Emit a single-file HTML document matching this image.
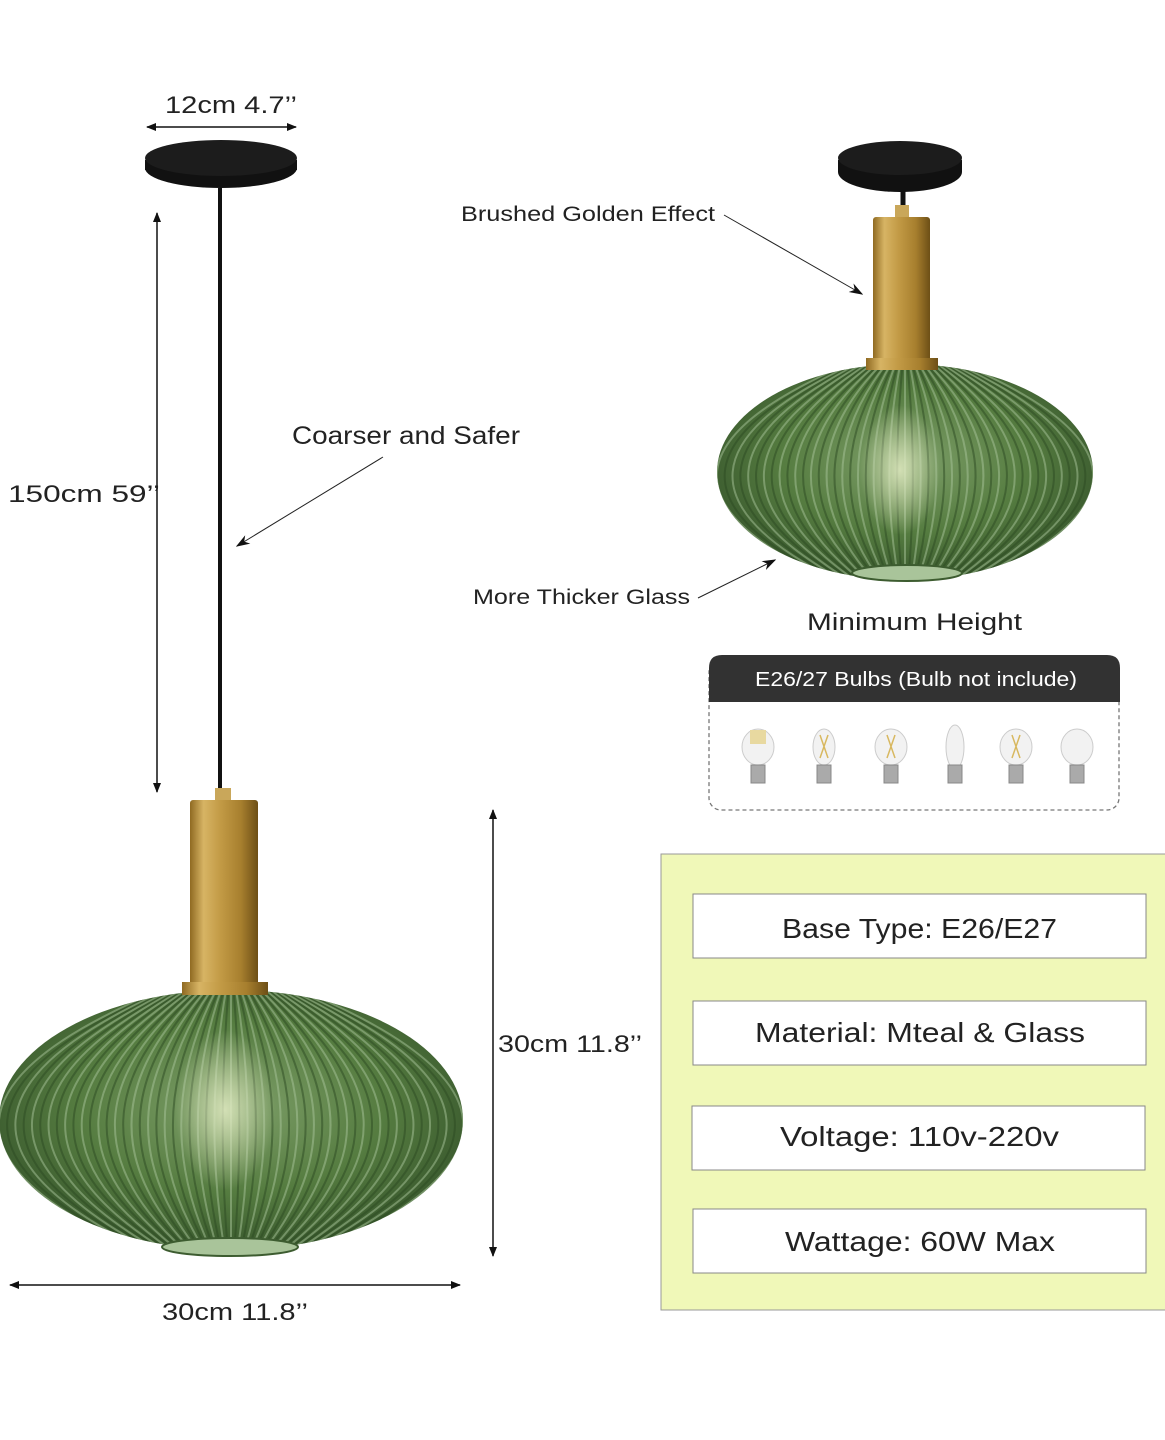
<!DOCTYPE html>
<html><head><meta charset="utf-8"><style>
html,body{margin:0;padding:0;background:#fff;}
svg{display:block}
text{font-family:"Liberation Sans","DejaVu Sans",sans-serif;fill:#222;}
</style></head><body>
<svg id="s" width="1165" height="1440" viewBox="0 0 1165 1440" xmlns="http://www.w3.org/2000/svg">
<defs>
<marker id="ah" viewBox="0 0 10 10" refX="9" refY="5" markerWidth="10" markerHeight="10" orient="auto-start-reverse" markerUnits="userSpaceOnUse"><path d="M0,1 L10,5 L0,9 Z" fill="#111"/></marker>
<marker id="al" viewBox="0 0 10 10" refX="9" refY="5" markerWidth="14" markerHeight="14" orient="auto" markerUnits="userSpaceOnUse"><path d="M0,1.5 L10,5 L0,8.5 L3,5 Z" fill="#111"/></marker>
<linearGradient id="gold" x1="0" x2="1"><stop offset="0" stop-color="#8f6a22"/><stop offset=".2" stop-color="#d7b464"/><stop offset=".45" stop-color="#c29a45"/><stop offset=".75" stop-color="#a77f2e"/><stop offset="1" stop-color="#6d4f16"/></linearGradient>
<radialGradient id="glass" cx=".5" cy=".45" r=".6"><stop offset="0" stop-color="#7fa06a"/><stop offset=".55" stop-color="#557c40"/><stop offset="1" stop-color="#34522a"/></radialGradient>
<radialGradient id="glow" cx=".5" cy=".5" r=".5"><stop offset="0" stop-color="#e8f0c8" stop-opacity=".8"/><stop offset="1" stop-color="#e8f0c8" stop-opacity="0"/></radialGradient>
<clipPath id="c1"><ellipse cx="231" cy="1120" rx="232" ry="130"/></clipPath>
<clipPath id="c2"><ellipse cx="905" cy="472" rx="188" ry="108"/></clipPath>
</defs>

<!-- big lamp -->
<line x1="220" y1="188" x2="220" y2="792" stroke="#111" stroke-width="4"/>
<ellipse cx="221" cy="168" rx="76" ry="20" fill="#111"/>
<rect x="145" y="160" width="152" height="10" fill="#111"/>
<ellipse cx="221" cy="158" rx="76" ry="18" fill="#1c1c1c"/>
<rect x="215" y="788" width="16" height="14" fill="#c9a75a"/>
<rect x="190" y="800" width="68" height="185" fill="url(#gold)" rx="3"/>
<g id="g1"><ellipse cx="231" cy="1120" rx="232" ry="130" fill="url(#glass)"/></g>
<ellipse cx="225" cy="1110" rx="50" ry="80" fill="url(#glow)"/>
<ellipse cx="230" cy="1247" rx="68" ry="9" fill="#a9c49a" stroke="#3d5c30" stroke-width="2"/>
<rect x="182" y="982" width="86" height="13" fill="url(#gold)"/>

<!-- small lamp -->
<line x1="903" y1="180" x2="903" y2="212" stroke="#111" stroke-width="5"/>
<ellipse cx="900" cy="172" rx="62" ry="20" fill="#111"/>
<rect x="838" y="160" width="124" height="12" fill="#111"/>
<ellipse cx="900" cy="158" rx="62" ry="17" fill="#1c1c1c"/>
<rect x="895" y="205" width="14" height="14" fill="#c9a75a"/>
<rect x="873" y="217" width="57" height="145" fill="url(#gold)" rx="3"/>
<g id="g2"><ellipse cx="905" cy="472" rx="188" ry="108" fill="url(#glass)"/></g>
<ellipse cx="900" cy="470" rx="40" ry="65" fill="url(#glow)"/>
<ellipse cx="907" cy="573" rx="55" ry="8" fill="#a9c49a" stroke="#3d5c30" stroke-width="2"/>
<rect x="866" y="358" width="72" height="12" fill="url(#gold)"/>

<!-- dimensions -->
<text x="165" y="113" font-size="24" textLength="132" lengthAdjust="spacingAndGlyphs">12cm 4.7’’</text>
<line x1="147" y1="127" x2="296" y2="127" stroke="#111" stroke-width="1.5" marker-start="url(#ah)" marker-end="url(#ah)"/>
<line x1="157" y1="213" x2="157" y2="792" stroke="#111" stroke-width="1.5" marker-start="url(#ah)" marker-end="url(#ah)"/>
<text x="8" y="502" font-size="24" textLength="152" lengthAdjust="spacingAndGlyphs">150cm 59’’</text>
<text x="292" y="444" font-size="25" textLength="228" lengthAdjust="spacingAndGlyphs">Coarser and Safer</text>
<line x1="383" y1="457" x2="237" y2="546" stroke="#222" stroke-width="1" marker-end="url(#al)"/>
<line x1="493" y1="810" x2="493" y2="1256" stroke="#111" stroke-width="1.5" marker-start="url(#ah)" marker-end="url(#ah)"/>
<text x="498" y="1052" font-size="24" textLength="144" lengthAdjust="spacingAndGlyphs">30cm 11.8’’</text>
<line x1="10" y1="1285" x2="460" y2="1285" stroke="#111" stroke-width="1.5" marker-start="url(#ah)" marker-end="url(#ah)"/>
<text x="162" y="1320" font-size="24" textLength="146" lengthAdjust="spacingAndGlyphs">30cm 11.8’’</text>

<text x="461" y="221" font-size="21" textLength="254" lengthAdjust="spacingAndGlyphs">Brushed Golden Effect</text>
<line x1="724" y1="215" x2="862" y2="294" stroke="#222" stroke-width="1" marker-end="url(#al)"/>
<text x="473" y="604" font-size="21" textLength="217" lengthAdjust="spacingAndGlyphs">More Thicker Glass</text>
<line x1="698" y1="598" x2="775" y2="560" stroke="#222" stroke-width="1" marker-end="url(#al)"/>
<text x="807" y="630" font-size="24" textLength="215" lengthAdjust="spacingAndGlyphs">Minimum Height</text>

<!-- bulbs box -->
<rect x="709" y="660" width="410" height="150" rx="12" fill="#fff" stroke="#777" stroke-width="1.3" stroke-dasharray="4,3"/>
<path d="M709,702 V668 Q709,655 722,655 H1107 Q1120,655 1120,668 V702 Z" fill="#323232"/>
<text x="755" y="686" font-size="20" textLength="322" lengthAdjust="spacingAndGlyphs" style="fill:#fff">E26/27 Bulbs (Bulb not include)</text>
<g id="bulbs"></g>

<!-- spec panel -->
<rect x="661" y="854" width="510" height="456" fill="#f0f8b8" stroke="#999" stroke-width="1"/>
<g stroke="#888" stroke-width="1" fill="#fff">
<rect x="693" y="894" width="453" height="64"/>
<rect x="693" y="1001" width="453" height="64"/>
<rect x="692" y="1106" width="453" height="64"/>
<rect x="693" y="1209" width="453" height="64"/>
</g>
<g font-size="28" lengthAdjust="spacingAndGlyphs">
<text x="782" y="938" textLength="275" lengthAdjust="spacingAndGlyphs">Base Type: E26/E27</text>
<text x="755" y="1042" textLength="330" lengthAdjust="spacingAndGlyphs">Material: Mteal &amp; Glass</text>
<text x="780" y="1146" textLength="279" lengthAdjust="spacingAndGlyphs">Voltage: 110v-220v</text>
<text x="785" y="1251" textLength="270" lengthAdjust="spacingAndGlyphs">Wattage: 60W Max</text>
</g>
</svg>
<script>
var NS="http://www.w3.org/2000/svg";
function ribs(gid,cx,cy,rx,ry,n,clip){
 var g=document.getElementById(gid);
 var h=document.createElementNS(NS,"g");h.setAttribute("clip-path","url(#"+clip+")");
 for(var i=0;i<=n;i++){
  var t=-1+2*i/n;
  var top=cx+t*rx*0.3, bot=cx+t*rx*0.4, mid=cx+t*rx*1.0;
  var ctrl=2*mid-(top+bot)/2;
  var p=document.createElementNS(NS,"path");
  p.setAttribute("d","M"+top+","+(cy-ry)+" Q"+ctrl+","+cy+" "+bot+","+(cy+ry));
  p.setAttribute("stroke",i%2?"#2c4a22":"#a8c49a");p.setAttribute("stroke-width",2);
  p.setAttribute("stroke-opacity",".5");p.setAttribute("fill","none");h.appendChild(p);
 }
 g.appendChild(h);
}
ribs("g1",231,1120,232,130,56,"c1");
ribs("g2",905,472,188,108,48,"c2");
var b=document.getElementById("bulbs");
var xs=[758,824,891,955,1016,1077];
xs.forEach(function(x,i){
 var s='';
 s+='<ellipse cx="'+x+'" cy="747" rx="'+(i==3?9:(i==1?11:16))+'" ry="'+(i==3?22:18)+'" fill="#f2f2f2" stroke="#ccc"/>';
 s+='<rect x="'+(x-7)+'" y="765" width="14" height="18" fill="#aaa" stroke="#888"/>';
 if(i==0) s+='<rect x="'+(x-8)+'" y="730" width="16" height="14" fill="#e8d9a0"/>';
 if(i==1||i==2||i==4) s+='<path d="M'+(x-4)+',735 L'+(x+4)+',758 M'+(x+4)+',735 L'+(x-4)+',758" stroke="#d8b860" stroke-width="1.5"/>';
 b.insertAdjacentHTML("beforeend",s);
});
</script>
</body></html>
